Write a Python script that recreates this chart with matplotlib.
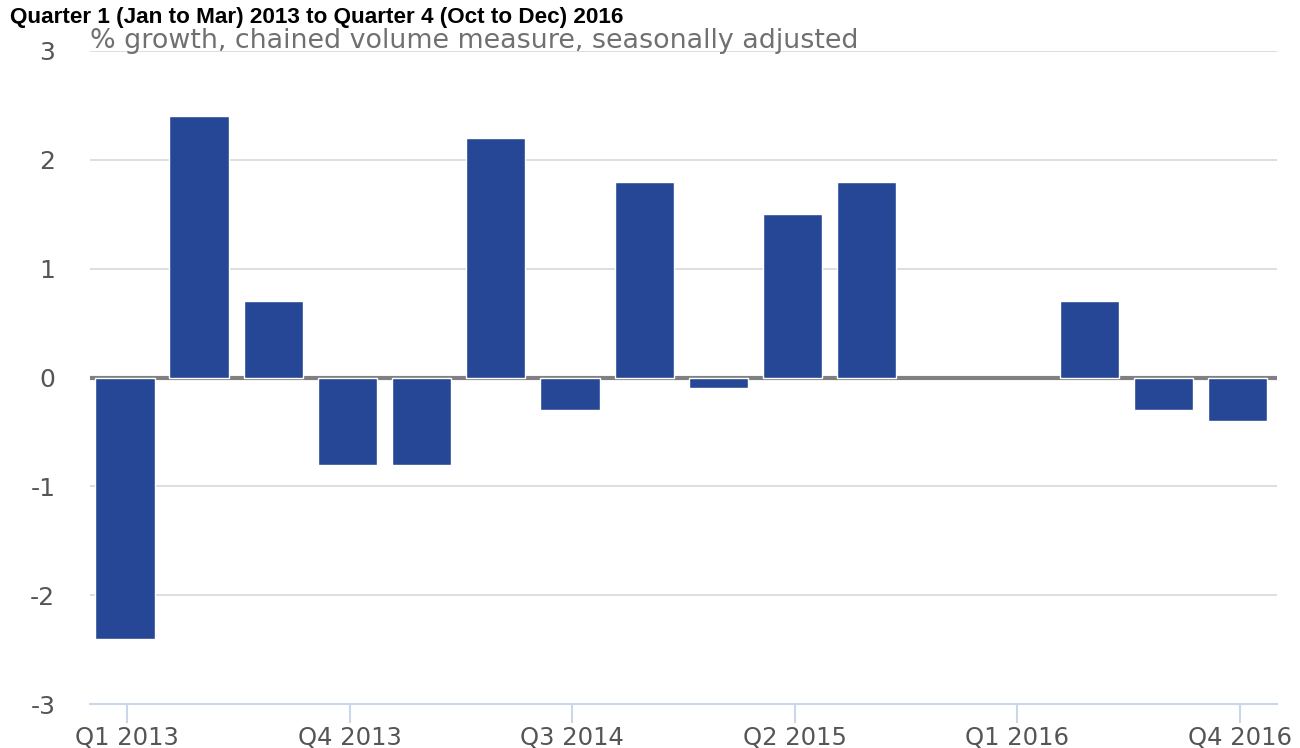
import matplotlib
matplotlib.use("Agg")
import matplotlib.pyplot as plt
import numpy as np

plt.rcParams['font.family'] = ['DejaVu Sans']

quarters = ["Q1 2013", "Q2 2013", "Q3 2013", "Q4 2013",
            "Q1 2014", "Q2 2014", "Q3 2014", "Q4 2014",
            "Q1 2015", "Q2 2015", "Q3 2015", "Q4 2015",
            "Q1 2016", "Q2 2016", "Q3 2016", "Q4 2016"]
growth = [-2.4, 2.4, 0.7, -0.8, -0.8, 2.2, -0.3, 1.8,
          -0.1, 1.5, 1.8, 0.0, 0.0, 0.7, -0.3, -0.4]
shown_ticks = [0, 3, 6, 9, 12, 15]
y_ticks = [-3, -2, -1, 0, 1, 2, 3]

fig = plt.figure(figsize=(13, 7.48), dpi=100)
ax = fig.add_axes([90 / 1300, 44 / 748, 1187 / 1300, 653 / 748])

x = np.arange(len(quarters))
ax.axhline(0, color="#808080", lw=3, zorder=2)
# zero-height bars get no white outline so the zero line stays unbroken
edge_w = [0 if v == 0 else 1 for v in growth]
ax.bar(x - 0.03, growth, width=0.8, color="#264796", edgecolor="white",
       linewidth=edge_w, zorder=3)

ax.set_xlim(-0.5, len(quarters) - 0.5)
ax.set_ylim(-3, 3)
ax.set_yticks(y_ticks)
ax.set_yticklabels([str(v) for v in y_ticks])
ax.set_xticks(shown_ticks)
ax.set_xticklabels([quarters[i] for i in shown_ticks])

ax.grid(axis="y", color="#d8d8d8", lw=1.2, zorder=0)
for s in ["top", "right", "left"]:
    ax.spines[s].set_visible(False)
ax.spines["bottom"].set_color("#ccd6eb")
ax.spines["bottom"].set_linewidth(1.5)
ax.tick_params(axis="x", colors="#ccd6eb", length=14, width=1.5, labelcolor="#555555",
               labelsize=17.5, pad=2)
ax.tick_params(axis="y", length=0, labelcolor="#555555", labelsize=18, pad=25)

fig.text(10 / 1300, 1 - 18 / 748, "Quarter 1 (Jan to Mar) 2013 to Quarter 4 (Oct to Dec) 2016",
         family="Liberation Sans", weight="bold", fontsize=16.2, va="center", ha="left")
fig.text(90 / 1300, 1 - 41 / 748, "% growth, chained volume measure, seasonally adjusted",
         color="#707070", fontsize=19.4, va="center", ha="left")

fig.savefig("out.png", dpi=100)
